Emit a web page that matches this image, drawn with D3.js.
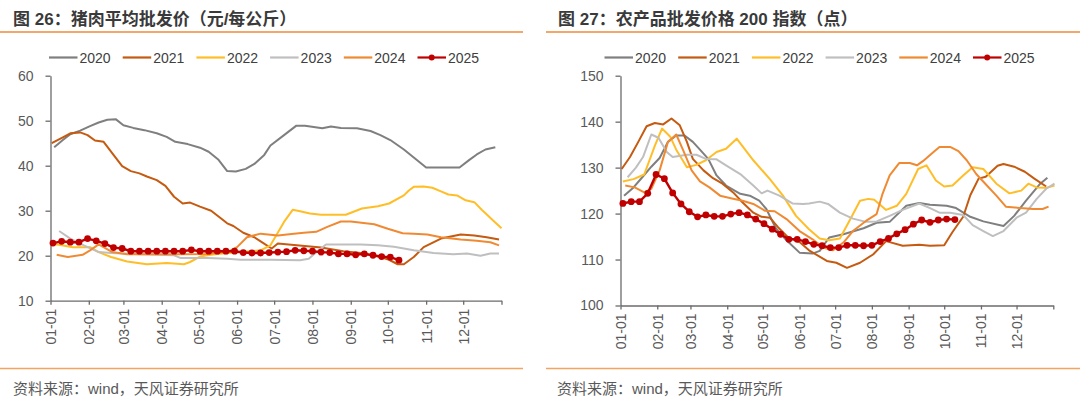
<!DOCTYPE html>
<html><head><meta charset="utf-8">
<script src="https://cdn.jsdelivr.net/npm/d3@7"></script>
<style>body{margin:0;background:#fff;} svg{display:block;}</style>
</head><body><svg id="c" width="1080" height="399"></svg>
<script>
// ---------------- DATA ----------------
const seriesYears = ["2020","2021","2022","2023","2024","2025"];
const monthLabels = ["01-01","02-01","03-01","04-01","05-01","06-01","07-01","08-01","09-01","10-01","11-01","12-01"];
const monthStartDays = [0,31,59,90,120,151,181,212,243,273,304,334];
const yearEndDay = 365;
const porkTicks = [10,20,30,40,50,60];
const agriTicks = [100,110,120,130,140,150];

// pork wholesale price (yuan/kg): [day of year, value]
const pork2020 = [[3,44.1],[10,45.7],[16,47.0],[24,47.8],[32,48.8],[39,49.6],[46,50.2],[53,50.3],[59,49.0],[67,48.4],[76,47.9],[86,47.2],[94,46.4],[101,45.3],[111,44.8],[121,44.0],[128,43.1],[136,41.3],[143,38.8],[150,38.7],[158,39.3],[165,40.4],[173,42.4],[178,44.5],[189,46.8],[199,48.9],[206,48.9],[220,48.3],[227,48.7],[235,48.4],[248,48.3],[259,47.7],[267,46.8],[275,45.7],[286,43.6],[295,41.6],[304,39.6],[331,39.6],[339,41.3],[345,42.5],[352,43.6],[360,44.1]];
const pork2021 = [[1,45.0],[10,46.3],[16,47.2],[24,47.4],[30,46.8],[36,45.6],[43,45.3],[51,42.4],[58,39.9],[65,38.8],[72,38.3],[78,37.6],[86,36.8],[93,35.5],[100,33.1],[107,31.6],[113,31.8],[121,30.9],[130,30.0],[136,28.7],[143,27.2],[148,26.6],[156,25.1],[165,24.1],[171,23.0],[179,21.6],[184,22.7],[197,22.4],[219,21.8],[237,21.0],[251,20.6],[267,19.7],[274,19.1],[281,18.1],[286,18.1],[294,19.7],[302,21.9],[316,23.8],[332,24.7],[343,24.5],[353,24.1],[363,23.6]];
const pork2022 = [[3,22.6],[8,22.4],[18,21.9],[32,21.9],[39,20.8],[49,19.7],[62,18.7],[78,18.1],[94,18.4],[108,18.1],[113,18.6],[121,19.8],[130,20.2],[135,20.4],[154,20.8],[170,21.2],[178,22.3],[189,27.5],[196,30.2],[202,29.9],[210,29.4],[219,29.1],[239,29.1],[252,30.5],[265,31.0],[274,31.6],[286,33.4],[290,34.5],[294,35.3],[302,35.4],[309,35.1],[316,34.3],[322,33.6],[329,33.4],[336,32.3],[343,31.9],[349,30.2],[358,27.9],[365,26.1]];
const pork2023 = [[7,25.5],[16,23.8],[27,22.3],[39,20.8],[49,20.6],[73,20.3],[100,20.1],[105,19.5],[127,19.5],[143,19.3],[154,19.1],[178,19.1],[202,19.0],[209,19.3],[216,21.0],[223,22.5],[251,22.5],[265,22.3],[278,22.0],[294,21.2],[310,20.6],[326,20.3],[337,20.5],[348,20.0],[356,20.5],[363,20.5]];
const pork2024 = [[5,20.2],[14,19.7],[26,20.2],[32,21.2],[39,22.5],[50,20.8],[62,20.3],[100,20.3],[127,20.4],[143,20.8],[151,21.9],[159,24.1],[170,24.9],[184,24.5],[197,24.9],[205,25.1],[215,25.3],[224,26.4],[235,27.6],[243,27.6],[262,27.0],[273,26.0],[285,25.0],[294,24.9],[305,24.7],[316,24.1],[332,23.6],[345,23.3],[356,23.0],[363,22.3]];
// 2025 weekly values, first week ending Jan 3
const pork2025 = [22.8,23.2,23.0,23.0,23.8,23.3,22.7,21.8,21.6,21.0,21.0,21.0,21.0,21.0,21.0,21.0,21.3,21.0,21.0,21.0,21.0,21.0,20.7,20.6,20.6,20.7,20.8,20.9,21.2,21.1,21.0,20.8,20.7,20.4,20.4,20.2,20.4,20.1,19.8,19.7,19.0];

// agricultural wholesale price 200 index: [day of year, value]
const agri2020 = [[3,123.9],[11,125.7],[18,127.8],[26,130.2],[33,132.1],[40,135.6],[47,137.0],[54,137.0],[61,135.6],[67,133.9],[74,131.9],[81,128.3],[89,126.1],[101,124.3],[109,123.9],[117,122.8],[123,121.0],[131,116.8],[140,114.2],[151,111.5],[162,111.3],[168,111.9],[176,114.8],[188,115.5],[205,116.8],[216,118.0],[227,118.2],[241,121.7],[252,122.3],[261,121.9],[275,121.7],[283,121.2],[295,119.3],[306,118.3],[323,117.3],[332,119.5],[342,122.8],[354,126.5],[360,127.8]];
const agri2021 = [[1,129.7],[8,132.3],[15,135.6],[22,139.0],[29,139.7],[36,139.4],[43,140.7],[50,139.2],[56,135.6],[61,131.9],[70,129.4],[78,127.7],[86,126.5],[95,124.6],[103,122.4],[112,120.2],[119,119.3],[126,119.1],[133,117.0],[141,114.9],[151,113.8],[159,112.0],[174,109.7],[182,109.3],[191,108.2],[202,109.3],[213,111.1],[224,114.0],[238,113.0],[252,113.2],[261,113.0],[273,113.1],[280,116.0],[289,119.3],[295,124.0],[302,127.6],[308,128.0],[318,130.4],[323,130.8],[332,130.2],[341,129.1],[349,127.6],[359,125.9]];
const agri2022 = [[2,127.0],[11,127.5],[20,128.5],[29,134.8],[35,138.5],[42,136.7],[47,133.9],[56,130.1],[64,130.6],[72,131.6],[81,133.4],[89,134.1],[98,136.3],[112,131.6],[126,127.5],[137,123.9],[148,119.5],[159,116.6],[168,114.6],[176,114.2],[185,114.6],[193,118.4],[202,122.8],[209,123.2],[214,123.0],[224,120.8],[233,121.7],[241,124.3],[251,129.7],[258,130.5],[266,127.2],[273,125.9],[280,126.1],[289,128.3],[297,130.1],[306,129.7],[317,126.5],[328,124.4],[338,125.0],[344,126.5],[351,125.7],[359,125.6],[366,126.1]];
const agri2023 = [[6,127.9],[13,130.0],[19,132.3],[26,137.2],[32,136.5],[39,133.4],[44,132.3],[56,132.8],[64,132.8],[72,131.9],[81,131.8],[89,130.5],[101,128.6],[112,126.1],[119,124.4],[124,125.0],[134,123.9],[145,122.2],[154,122.1],[159,122.2],[168,122.6],[175,122.1],[185,120.2],[196,118.9],[207,118.2],[216,118.3],[227,119.5],[238,120.8],[252,122.2],[261,121.2],[269,120.2],[278,120.2],[289,119.7],[297,117.5],[306,116.2],[314,115.1],[323,116.2],[334,119.1],[342,120.2],[351,123.2],[359,125.4],[366,126.5]];
const agri2024 = [[4,126.1],[12,125.7],[20,124.6],[26,125.4],[33,129.4],[40,135.6],[47,137.2],[53,133.7],[60,129.4],[67,127.0],[75,125.7],[84,123.9],[94,123.3],[103,122.8],[112,122.1],[122,120.6],[130,120.5],[140,118.8],[151,116.2],[162,114.4],[171,112.6],[179,112.0],[188,113.7],[196,116.2],[207,118.4],[216,119.9],[221,124.3],[227,128.3],[235,131.0],[244,131.0],[250,130.5],[255,131.4],[264,133.4],[269,134.5],[278,134.5],[285,133.6],[292,131.6],[300,128.6],[309,126.1],[317,123.9],[325,121.5],[337,121.2],[348,121.0],[356,121.0],[361,121.5]];
const agri2025 = [122.2,122.6,122.6,124.4,128.5,127.6,124.5,122.1,120.4,119.3,119.7,119.4,119.4,119.9,120.2,119.7,118.8,117.8,116.6,115.5,114.4,114.4,113.9,113.3,113.0,112.6,112.6,113.1,113.1,113.0,113.1,113.9,114.6,115.6,116.5,117.7,118.6,118.1,118.6,118.8,118.7];

const firstWeekDay = 2;

// ---------------- DRAWING ----------------
const lineColors = ["#7F7F7F","#C55A11","#FFBE28","#BFBFBF","#F08A32","#C00000"];
const svg = d3.select("#c");
const numFont = "'Liberation Sans', Arial, sans-serif";
const cjkFont = "'Liberation Sans', 'Noto Sans CJK SC', sans-serif";

function weekly(vals){ return vals.map((v,i)=>[firstWeekDay+7*i, v]); }

const panels = [
  {title:"图 26：猪肉平均批发价（元/每公斤）", tx:13, ruleX:[0,523], x0:50.5, x1:501.5, yTop:75.7, yBot:300.7,
   domain:[10,60], ticks:porkTicks, legendX:49, footX:13, footRule:[0,523],
   data:[pork2020,pork2021,pork2022,pork2023,pork2024,weekly(pork2025)]},
  {title:"图 27：农产品批发价格 200 指数（点）", tx:558, ruleX:[546,1080], x0:620.5, x1:1053.3, yTop:75.7, yBot:305.5,
   domain:[100,150], ticks:agriTicks, legendX:604.5, footX:557, footRule:[546,1080],
   data:[agri2020,agri2021,agri2022,agri2023,agri2024,weekly(agri2025)]}
];

panels.forEach(p=>{
  // title + rule
  svg.append("text").attr("x",p.tx).attr("y",24.5).text(p.title)
    .style("font-family",cjkFont).style("font-size","17px").style("font-weight","bold").style("fill","#3a3a3a");
  svg.append("line").attr("x1",p.ruleX[0]).attr("x2",p.ruleX[1]).attr("y1",32).attr("y2",32)
    .style("stroke","#EE8B3A").style("stroke-width",1.3);
  // footer
  svg.append("line").attr("x1",p.footRule[0]).attr("x2",p.footRule[1]).attr("y1",368.5).attr("y2",368.5)
    .style("stroke","#F4A461").style("stroke-width",1.3);
  svg.append("text").attr("x",p.footX).attr("y",393.5).text("资料来源：wind，天风证券研究所")
    .style("font-family",cjkFont).style("font-size","15px").style("fill","#595959");

  const x = d3.scaleLinear().domain([0,yearEndDay]).range([p.x0,p.x1]);
  const y = d3.scaleLinear().domain(p.domain).range([p.yBot,p.yTop]);

  const gy = svg.append("g").attr("transform",`translate(${p.x0},0)`)
    .call(d3.axisLeft(y).tickValues(p.ticks).tickSize(5).tickPadding(12).tickSizeOuter(0).tickFormat(d3.format("d")));
  const gx = svg.append("g").attr("transform",`translate(0,${p.yBot})`)
    .call(d3.axisBottom(x).tickValues(monthStartDays.concat([yearEndDay])).tickSize(4).tickSizeOuter(0)
      .tickFormat((d,i)=> i<monthLabels.length ? monthLabels[i] : ""));
  [gx,gy].forEach(g=>{
    g.selectAll("path,line").style("stroke","#6b6b6b").style("stroke-width",1.3);
    g.selectAll("text").style("font-family",numFont).style("font-size","14px").style("fill","#595959");
  });
  gx.selectAll("text").attr("transform","rotate(-90)").attr("x",-8).attr("y",0).attr("dy","0.35em").style("text-anchor","end");

  const line = d3.line().x(d=>x(d[0])).y(d=>y(d[1]));
  p.data.forEach((s,i)=>{
    svg.append("path").datum(s).attr("d",line).style("fill","none")
      .style("stroke",lineColors[i]).style("stroke-width", i===5?2.4:2).style("stroke-linejoin","round");
  });
  svg.append("g").selectAll("circle").data(p.data[5]).join("circle")
    .attr("cx",d=>x(d[0])).attr("cy",d=>y(d[1])).attr("r",3.4).style("fill","#C00000");

  // legend
  seriesYears.forEach((yr,i)=>{
    const lx = p.legendX + i*73.7;
    svg.append("line").attr("x1",lx).attr("x2",lx+28.5).attr("y1",57.5).attr("y2",57.5)
      .style("stroke",lineColors[i]).style("stroke-width",2.2);
    if(i===5) svg.append("circle").attr("cx",lx+14.2).attr("cy",57.5).attr("r",3).style("fill","#C00000");
    svg.append("text").attr("x",lx+30.5).attr("y",62.5).text(yr)
      .style("font-family",numFont).style("font-size","14px").style("fill","#404040");
  });
});
</script></body></html>
